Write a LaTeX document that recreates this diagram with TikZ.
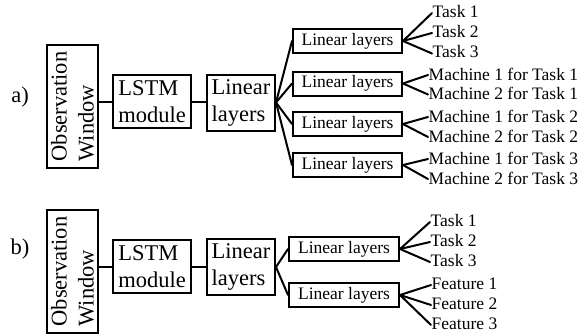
\documentclass[tikz,border=0pt]{standalone}
\usepackage{fontspec}
\setmainfont{Liberation Serif}
\begin{document}
\begin{tikzpicture}[x=1pt,y=-1pt,
  box/.style={draw, line width=2pt, inner sep=2pt},
  bigtxt/.style={font=\fontsize{22.5}{27}\selectfont, align=left},
  smalltxt/.style={font=\fontsize{17.5}{20}\selectfont},
  smallbox/.style={box, smalltxt, minimum width=109pt, minimum height=24pt},
  lbl/.style={smalltxt, anchor=base west, inner sep=0.5pt},
  link/.style={line width=2pt, line cap=round},
]
\useasboundingbox (0,0) rectangle (580,335);

% ---------- a) ----------
\node[bigtxt] (tagA) at (20,97) {a)};
\node[box,bigtxt,rotate=90,minimum width=123pt,minimum height=51pt] (obsA) at (72.5,106.5) {Observation\\Window};
\node[box,bigtxt,minimum width=78pt,minimum height=53pt] (lstmA) at (152,101.5) {LSTM\\module};
\node[box,bigtxt,minimum width=68pt,minimum height=56pt] (linA) at (241,102.5) {Linear\\layers};

\node[smallbox] (la1) at (347.5,41) {Linear layers};
\node[smallbox] (la2) at (347.5,83.5) {Linear layers};
\node[smallbox] (la3) at (347.5,124) {Linear layers};
\node[smallbox] (la4) at (347.5,165) {Linear layers};

\node[lbl] (ta1) at (432,17) {Task 1};
\node[lbl] (ta2) at (432,37) {Task 2};
\node[lbl] (ta3) at (432,57.5) {Task 3};
\node[lbl] (ma1) at (428,80) {Machine 1 for Task 1};
\node[lbl] (ma2) at (428,99.5) {Machine 2 for Task 1};
\node[lbl] (ma3) at (428,122) {Machine 1 for Task 2};
\node[lbl] (ma4) at (428,142) {Machine 2 for Task 2};
\node[lbl] (ma5) at (428,164) {Machine 1 for Task 3};
\node[lbl] (ma6) at (428,184) {Machine 2 for Task 3};

\draw[link] (obsA.south |- lstmA.west) -- (lstmA.west);
\draw[link] (lstmA.east) -- (linA.west |- lstmA.east);
\foreach \b in {la1,la2,la3,la4} \draw[link] (linA.east) -- (\b.west);
\foreach \t in {ta1,ta2,ta3} \draw[link] (la1.east) -- ([yshift=4pt]\t.base west);
\foreach \t in {ma1,ma2} \draw[link] (la2.east) -- ([yshift=5pt]\t.base west);
\foreach \t in {ma3,ma4} \draw[link] (la3.east) -- ([yshift=5pt]\t.base west);
\foreach \t in {ma5,ma6} \draw[link] (la4.east) -- ([yshift=5pt]\t.base west);

% ---------- b) ----------
\node[bigtxt] (tagB) at (20,249) {b)};
\node[box,bigtxt,rotate=90,minimum width=123pt,minimum height=51pt] (obsB) at (72.5,271.5) {Observation\\Window};
\node[box,bigtxt,minimum width=78pt,minimum height=53pt] (lstmB) at (152,266.5) {LSTM\\module};
\node[box,bigtxt,minimum width=68pt,minimum height=56pt] (linB) at (241,267) {Linear\\layers};

\node[smallbox,minimum width=110pt] (lb1) at (344,249) {Linear layers};
\node[smallbox,minimum width=110pt] (lb2) at (344,295) {Linear layers};

\node[lbl] (tb1) at (430,226) {Task 1};
\node[lbl] (tb2) at (430,246) {Task 2};
\node[lbl] (tb3) at (430,266) {Task 3};
\node[lbl] (fb1) at (431,289) {Feature 1};
\node[lbl] (fb2) at (431,309) {Feature 2};
\node[lbl] (fb3) at (431,329) {Feature 3};

\draw[link] (obsB.south |- lstmB.west) -- (lstmB.west);
\draw[link] (lstmB.east) -- (linB.west |- lstmB.east);
\foreach \b in {lb1,lb2} \draw[link] (linB.east) -- (\b.west);
\foreach \t in {tb1,tb2,tb3} \draw[link] (lb1.east) -- ([yshift=4pt]\t.base west);
\foreach \t in {fb1,fb2,fb3} \draw[link] (lb2.east) -- ([yshift=4pt]\t.base west);
\end{tikzpicture}
\end{document}
